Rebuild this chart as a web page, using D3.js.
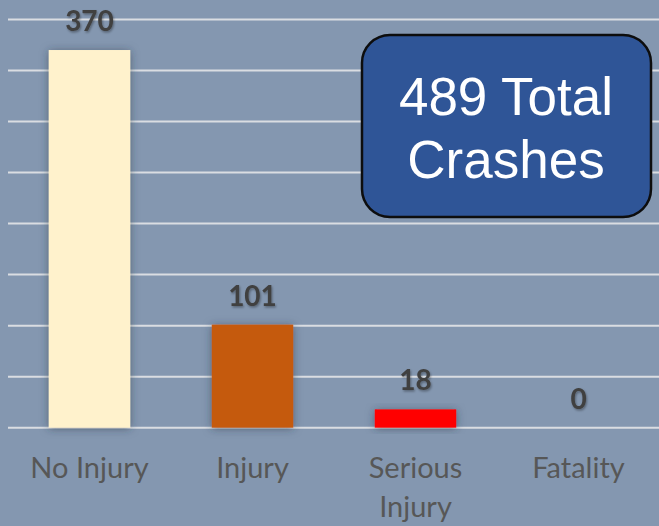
<!DOCTYPE html>
<html>
<head>
<meta charset="utf-8">
<script src="https://cdn.jsdelivr.net/npm/d3@7"></script>
<style>
  html, body { margin: 0; padding: 0; background: #8497b0; }
  svg { display: block; }
</style>
</head>
<body>
<svg id="chart" width="659" height="526"></svg>
<script>
// Crash counts by severity
const categories = ["No Injury", "Injury", "Serious Injury", "Fatality"];
const crashCounts = [370, 101, 18, 0];
const barColors = ["#fff2cc", "#c55a11", "#ff0000", "#7f7f7f"];
const yTicks = [0, 50, 100, 150, 200, 250, 300, 350, 400];
const totalLines = ["489 Total", "Crashes"];

const W = 659, H = 526;
const svg = d3.select("#chart");

svg.append("rect").attr("width", W).attr("height", H).attr("fill", "#8497b0");

const defs = svg.append("defs");
const shadow = defs.append("filter").attr("id", "barShadow")
  .attr("x", "-30%").attr("y", "-30%").attr("width", "160%").attr("height", "160%");
shadow.append("feDropShadow").attr("dx", 0).attr("dy", 1).attr("stdDeviation", 4)
  .attr("flood-color", "#2a3444").attr("flood-opacity", 0.55);
const textShadow = defs.append("filter").attr("id", "textShadow")
  .attr("x", "-20%").attr("y", "-20%").attr("width", "140%").attr("height", "140%");
textShadow.append("feDropShadow").attr("dx", 1).attr("dy", 1.5).attr("stdDeviation", 1)
  .attr("flood-color", "#000").attr("flood-opacity", 0.35);

const x = d3.scaleBand().domain(categories).range([8, 660])
  .paddingInner(0.5).paddingOuter(0.25);
const y = d3.scaleLinear().domain([0, 400]).range([427.7, 19.4]);

// Horizontal gridlines
svg.append("g").selectAll("line").data(yTicks).join("line")
  .attr("x1", 8).attr("x2", W)
  .attr("y1", d => y(d)).attr("y2", d => y(d))
  .attr("stroke", "#dadde2").attr("stroke-width", 2);

// Bars
svg.append("g").selectAll("rect").data(crashCounts).join("rect")
  .attr("x", (d, i) => x(categories[i]))
  .attr("width", x.bandwidth())
  .attr("y", d => y(d))
  .attr("height", d => y(0) - y(d))
  .attr("fill", (d, i) => barColors[i])
  .attr("filter", "url(#barShadow)");

// Value labels
svg.append("g").selectAll("text").data(crashCounts).join("text")
  .attr("x", (d, i) => x(categories[i]) + x.bandwidth() / 2)
  .attr("y", d => y(d) - 19)
  .attr("text-anchor", "middle")
  .attr("font-family", "Lato, 'Open Sans', sans-serif")
  .attr("font-weight", "bold")
  .attr("font-size", 28)
  .attr("fill", "#404040")
  .attr("filter", "url(#textShadow)")
  .text(d => d);

// Category labels (wrapped to two lines where needed)
const catG = svg.append("g");
categories.forEach(c => {
  const words = c === "Serious Injury" ? ["Serious", "Injury"] : [c];
  const t = catG.append("text")
    .attr("x", x(c) + x.bandwidth() / 2)
    .attr("y", 478)
    .attr("text-anchor", "middle")
    .attr("font-family", "Lato, 'Open Sans', sans-serif")
    .attr("font-size", 29)
    .attr("fill", "#575757");
  words.forEach((w, i) => {
    t.append("tspan").attr("x", x(c) + x.bandwidth() / 2)
      .attr("dy", i === 0 ? 0 : 39).text(w);
  });
});

// Total callout box
const box = svg.append("g");
box.append("rect")
  .attr("x", 362).attr("y", 35).attr("width", 289).attr("height", 182)
  .attr("rx", 28).attr("ry", 28)
  .attr("fill", "#2f5597").attr("stroke", "#0d0d0d").attr("stroke-width", 2.5);
box.selectAll("text").data(totalLines).join("text")
  .attr("x", 506)
  .attr("y", (d, i) => 115 + i * 63)
  .attr("text-anchor", "middle")
  .attr("font-family", "'Liberation Sans', Arial, sans-serif")
  .attr("font-size", 53)
  .attr("fill", "#ffffff")
  .text(d => d);
</script>
</body>
</html>
